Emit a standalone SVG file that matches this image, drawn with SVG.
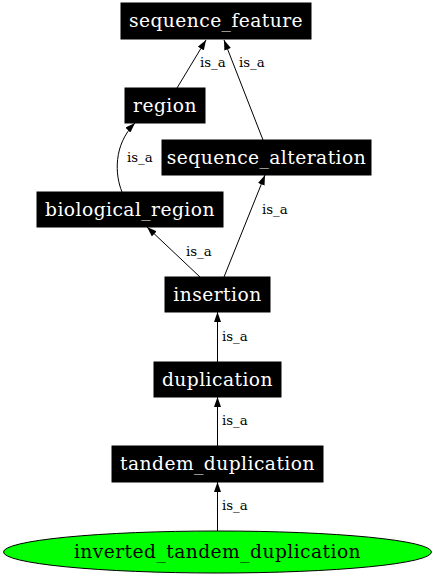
<svg xmlns="http://www.w3.org/2000/svg" width="435" height="576" viewBox="0 0 435 576">
<style>
.box{fill:#000;stroke:#000}
.t{font-family:"DejaVu Serif",serif;font-size:18.67px;letter-spacing:0.45px;fill:#fff;text-anchor:middle}
.e{fill:none;stroke:#000;stroke-width:1}
.l{font-family:"DejaVu Serif",serif;font-size:13.33px;fill:#000}
</style>
<defs>
<marker id="ah" viewBox="0 0 10 7" refX="10" refY="3.5" markerWidth="10" markerHeight="7" markerUnits="userSpaceOnUse" orient="auto">
<path d="M0,0 L10,3.5 L0,7 Z" fill="#000"/>
</marker>
</defs>
<rect width="435" height="576" fill="#fff"/>
<g id="edges">
<path class="e" d="M177,88 L206,40" marker-end="url(#ah)"/>
<text class="l" x="200" y="67">is_a</text>
<path class="e" d="M263,140 L224,40" marker-end="url(#ah)"/>
<text class="l" x="239" y="67">is_a</text>
<path class="e" d="M122,192 C115,175 113,145 135,123" marker-end="url(#ah)"/>
<text class="l" x="127" y="162">is_a</text>
<path class="e" d="M200,277 L147,227" marker-end="url(#ah)"/>
<text class="l" x="186" y="256">is_a</text>
<path class="e" d="M224,277 L265,175" marker-end="url(#ah)"/>
<text class="l" x="262" y="214">is_a</text>
<path class="e" d="M217.5,362 L217.5,312" marker-end="url(#ah)"/>
<text class="l" x="222" y="341">is_a</text>
<path class="e" d="M217.5,446 L217.5,397" marker-end="url(#ah)"/>
<text class="l" x="222" y="425">is_a</text>
<path class="e" d="M217.5,531 L217.5,482" marker-end="url(#ah)"/>
<text class="l" x="222" y="510">is_a</text>
</g>
<g id="sequence_feature"><rect class="box" x="121" y="3" width="190" height="36"/><text class="t" x="216" y="27">sequence_feature</text></g>
<g id="region"><rect class="box" x="125" y="88" width="80" height="35"/><text class="t" x="165" y="112">region</text></g>
<g id="sequence_alteration"><rect class="box" x="162" y="140" width="209" height="35"/><text class="t" x="266.5" y="164">sequence_alteration</text></g>
<g id="biological_region"><rect class="box" x="37" y="192" width="186" height="35"/><text class="t" x="130" y="216">biological_region</text></g>
<g id="insertion"><rect class="box" x="165" y="277" width="105" height="35"/><text class="t" x="217.5" y="301">insertion</text></g>
<g id="duplication"><rect class="box" x="154" y="362" width="127" height="35"/><text class="t" x="217.5" y="386">duplication</text></g>
<g id="tandem_duplication"><rect class="box" x="112" y="446" width="211" height="36"/><text class="t" x="217.5" y="470">tandem_duplication</text></g>
<g id="inverted_tandem_duplication"><ellipse cx="217.5" cy="552" rx="214" ry="21" fill="#00ff00" stroke="#000"/><text class="t" x="217.5" y="558" style="fill:#000">inverted_tandem_duplication</text></g>
</svg>
